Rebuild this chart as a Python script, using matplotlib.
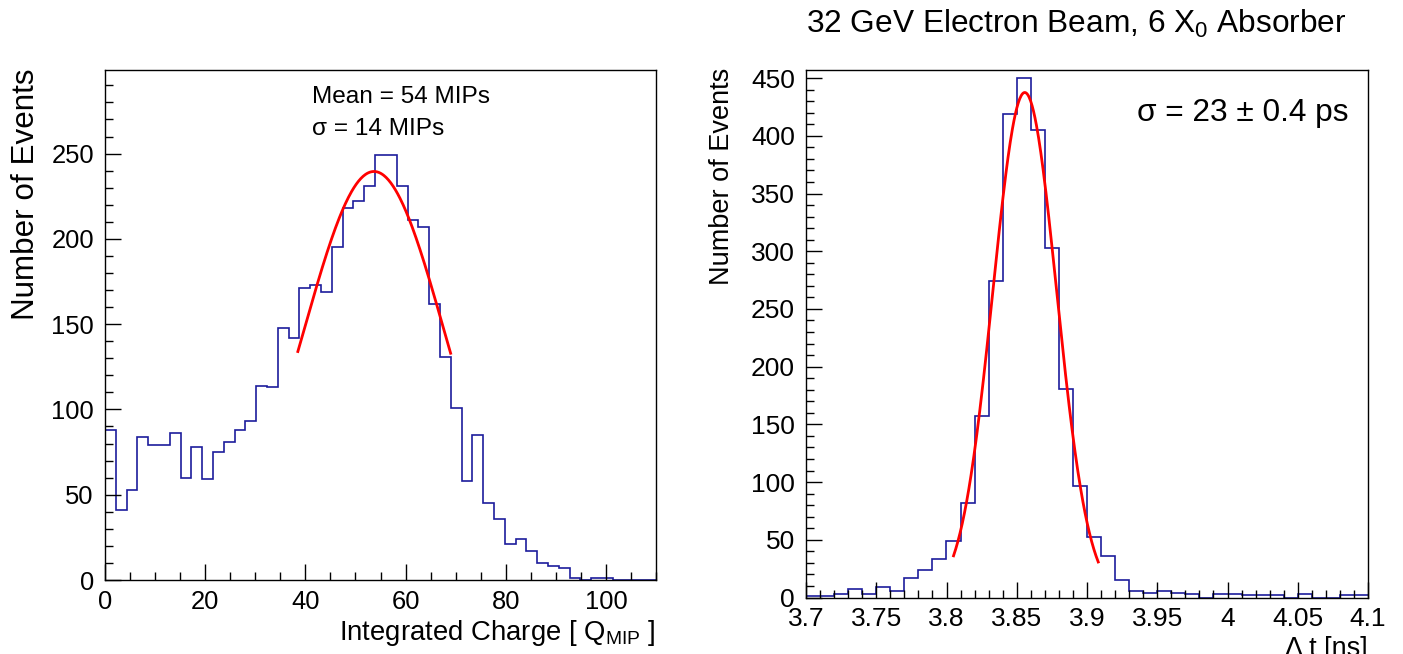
import numpy as np
import matplotlib
matplotlib.use("Agg")
import matplotlib.pyplot as plt
from matplotlib.ticker import MultipleLocator

plt.rcParams["font.family"] = ["Liberation Sans", "DejaVu Sans"]
plt.rcParams["mathtext.fontset"] = "custom"
plt.rcParams["mathtext.rm"] = "Liberation Sans"
plt.rcParams["mathtext.it"] = "Liberation Sans"

# ── Left: integrated charge (51 bins over 0..110) ─────────────────
charge_range = (0, 110)
charge_counts = [88, 41, 53, 84, 79, 79, 86, 60, 78, 59, 75, 81, 88, 93, 114,
                 113, 148, 142, 171, 173, 169, 195, 218, 222, 231, 249, 249,
                 231, 211, 207, 162, 131, 101, 58, 85, 45, 36, 21, 24, 17, 10,
                 8, 7, 1, 0, 1, 1, 0, 0, 0, 0]
# gaussian fit: amplitude, mean, sigma, fit range
charge_fit = (239.5, 53.7, 14.1)
charge_fit_range = (38.5, 69.0)

# ── Right: delta t (40 bins over 3.7..4.1 ns) ────────────────────
dt_range = (3.7, 4.1)
dt_counts = [1, 1, 3, 7, 3, 9, 6, 17, 24, 33, 49, 82, 157, 274, 419, 450, 405,
             303, 181, 97, 52, 36, 15, 6, 4, 6, 4, 3, 0, 3, 3, 2, 2, 2, 0, 3,
             0, 0, 2, 2]
dt_fit = (437.5, 3.8557, 0.0227)
dt_fit_range = (3.805, 3.908)

HIST_COL = "#1c1c9c"
W, H = 1403, 654


def gauss(x, a, mu, s):
    return a * np.exp(-0.5 * ((x - mu) / s) ** 2)


def root_style(ax, xmaj, xmin, ymaj, ymin, lsize):
    ax.xaxis.set_major_locator(MultipleLocator(xmaj))
    ax.xaxis.set_minor_locator(MultipleLocator(xmin))
    ax.yaxis.set_major_locator(MultipleLocator(ymaj))
    ax.yaxis.set_minor_locator(MultipleLocator(ymin))
    ax.tick_params(which="both", direction="in", top=False, right=False,
                   width=1.0, labelsize=lsize)
    ax.tick_params(which="major", length=11.5)
    ax.tick_params(which="minor", length=5.5)
    ax.tick_params(axis="y", pad=8)
    ax.tick_params(axis="x", pad=7)
    for sp in ax.spines.values():
        sp.set_linewidth(1.0)


def px_axes(fig, left, right, top, bottom):
    return fig.add_axes([left / W, 1 - bottom / H, (right - left) / W, (bottom - top) / H])


fig = plt.figure(figsize=(W / 100, H / 100), dpi=100, facecolor="white")

# ── Left panel ────────────────────────────────────────────────────
ax1 = px_axes(fig, 105, 656, 70, 580)
edges1 = np.linspace(charge_range[0], charge_range[1], len(charge_counts) + 1)
ax1.stairs(charge_counts, edges1, baseline=None, color=HIST_COL, lw=1.2)
xf = np.linspace(charge_fit_range[0], charge_fit_range[1], 200)
ax1.plot(xf, gauss(xf, *charge_fit), color="red", lw=2)
ax1.set_xlim(*charge_range)
ax1.set_ylim(0, 299)
root_style(ax1, 20, 5, 50, 10, 18.4)
fig.text(312 / W, 1 - 103 / H, "Mean = 54 MIPs", fontsize=17.6, va="baseline")
fig.text(312 / W, 1 - 135 / H, "\u03c3 = 14 MIPs", fontsize=17.6, va="baseline")
fig.text(26 / W, 1 - 68 / H, "Number of Events", rotation=90,
         fontsize=22.6, ha="center", va="top")
fig.text(656 / W, 1 - 618 / H, "Integrated Charge [ Q$_{\\mathrm{MIP}}$ ]",
         fontsize=19.8, ha="right", va="top")

# ── Right panel ───────────────────────────────────────────────────
ax2 = px_axes(fig, 806, 1368, 70, 597.5)
edges2 = np.linspace(dt_range[0], dt_range[1], len(dt_counts) + 1)
ax2.stairs(dt_counts, edges2, baseline=None, color=HIST_COL, lw=1.2)
xf2 = np.linspace(dt_fit_range[0], dt_fit_range[1], 200)
ax2.plot(xf2, gauss(xf2, *dt_fit), color="red", lw=2)
ax2.set_xlim(*dt_range)
ax2.set_ylim(0, 457)
root_style(ax2, 0.05, 0.01, 50, 10, 19)
ax2.xaxis.set_major_formatter(plt.FuncFormatter(lambda v, p: f"{v:g}"))
fig.text(1137 / W, 1 - 121 / H, "\u03c3 = 23 \u00b1 0.4 ps", fontsize=22.8, va="baseline")
fig.text(722 / W, 1 - 68 / H, "Number of Events", rotation=90,
         fontsize=19.5, ha="center", va="top")
fig.text(1368 / W, 1 - 636 / H, "\u0394 t [ns]", fontsize=19.5, ha="right", va="top")
fig.text(806 / W, 1 - 33 / H, "32 GeV Electron Beam, 6 X$_0$ Absorber",
         fontsize=22.8, ha="left", va="baseline")

fig.savefig("out.png", dpi=100)
